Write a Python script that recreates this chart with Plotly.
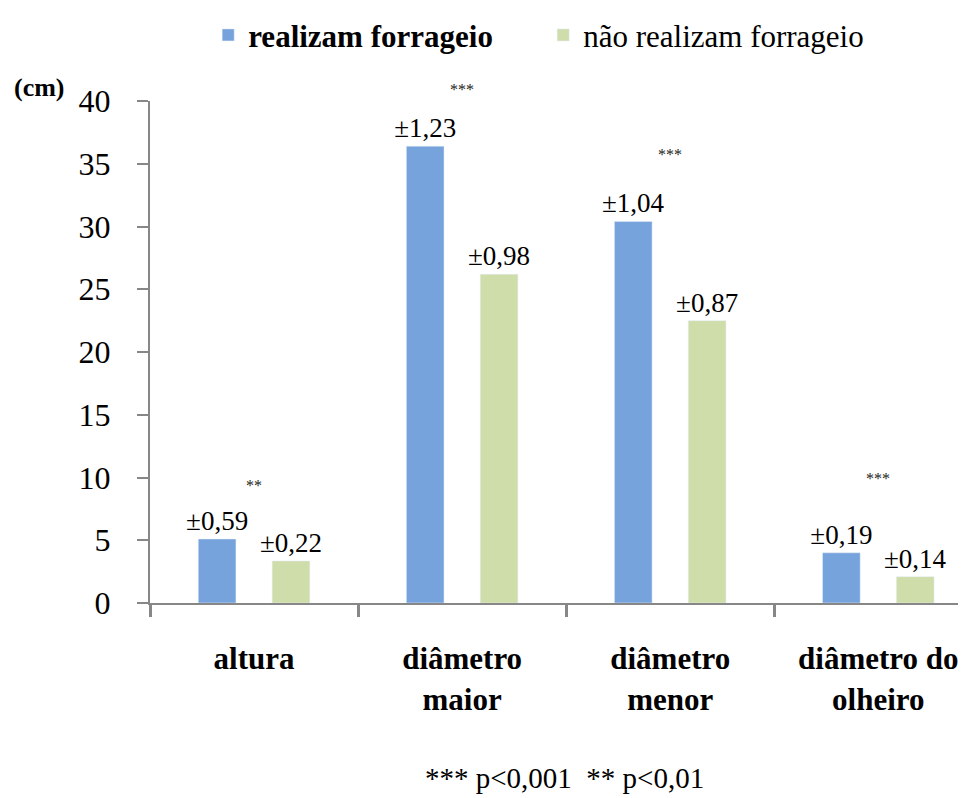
import plotly.graph_objects as go

# categories and values (cm)
categorias = ["<b>altura</b>", "<b>diâmetro<br>maior</b>", "<b>diâmetro<br>menor</b>", "<b>diâmetro do<br>olheiro</b>"]
realizam = [5.1, 36.4, 30.4, 4.0]
nao_realizam = [3.35, 26.2, 22.5, 2.1]
erro_realizam = ["±0,59", "±1,23", "±1,04", "±0,19"]
erro_nao = ["±0,22", "±0,98", "±0,87", "±0,14"]
signif = ["**", "***", "***", "***"]
signif_y = [9.4, 40.9, 35.7, 9.9]
y_ticks = [0, 5, 10, 15, 20, 25, 30, 35, 40]
Y_MAX = 40

FONT = "Liberation Serif"
AXIS = "#878787"

fig = go.Figure()
fig.add_trace(go.Bar(
    x=categorias, y=realizam, name="<b>realizam forrageio</b>",
    marker=dict(color="#77A3DC"),
    text=erro_realizam, textposition="outside", constraintext="none",
    textfont=dict(family=FONT, size=27, color="black"),
    cliponaxis=False,
))
fig.add_trace(go.Bar(
    x=categorias, y=nao_realizam, name="não realizam forrageio",
    marker=dict(color="#CFDDAB"),
    text=erro_nao, textposition="outside", constraintext="none",
    textfont=dict(family=FONT, size=27, color="black"),
    cliponaxis=False,
))

# significance stars (paper y so the one above the axis top is not hidden)
for cat, s, yy in zip(categorias, signif, signif_y):
    fig.add_annotation(x=cat, xref="x", y=yy / Y_MAX, yref="paper", text=s,
                       showarrow=False, yanchor="middle",
                       font=dict(family=FONT, size=16, color="#222222"))

fig.add_annotation(text="<b>(cm)</b>", xref="paper", yref="paper",
                   x=-0.1675, y=1.026, xanchor="left", yanchor="middle",
                   showarrow=False, font=dict(family=FONT, size=26, color="black"))
fig.add_annotation(text="*** p<0,001  ** p<0,01", xref="paper", yref="paper",
                   x=0.5036, y=-0.3486, xanchor="center", yanchor="middle",
                   showarrow=False, font=dict(family=FONT, size=29, color="black"))

# page body has an 8px margin, so the figure is laid out 8px up/left
fig.update_layout(
    width=966, height=798,
    margin=dict(l=142, r=0, t=93, b=203, autoexpand=False),
    paper_bgcolor="white", plot_bgcolor="white",
    barmode="group", bargap=0.29, bargroupgap=0.49,
    font=dict(family=FONT, color="black"),
    showlegend=True,
    legend=dict(orientation="h", x=0.0706, y=1.131, xanchor="left", yanchor="middle",
                font=dict(family=FONT, size=31, color="black"),
                entrywidth=290, itemwidth=30),
)
fig.update_xaxes(
    range=[-0.5, 3.46], automargin=False,
    showline=True, linecolor=AXIS, linewidth=2,
    ticks="outside", tickson="boundaries", ticklen=12, tickcolor=AXIS, tickwidth=3,
    tickfont=dict(family=FONT, size=31, color="black"),
    ticklabelstandoff=27,
    showgrid=False,
)
fig.update_yaxes(
    range=[0, Y_MAX], tickvals=y_ticks, automargin=False,
    showline=True, linecolor=AXIS, linewidth=2,
    ticks="outside", ticklen=11, tickcolor=AXIS, tickwidth=2,
    tickfont=dict(family=FONT, size=32, color="black"),
    ticklabelstandoff=20,
    showgrid=False, zeroline=False,
)

fig.write_html("out.html")
